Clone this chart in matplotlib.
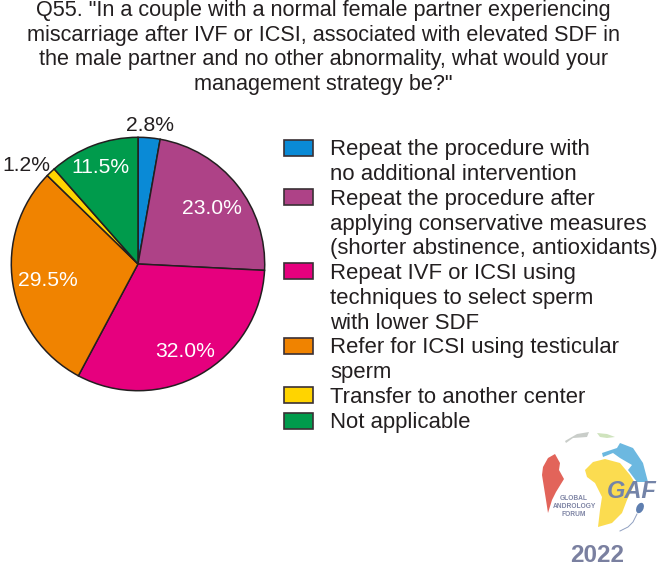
#!/usr/bin/env python3
"""Q55 management strategy pie chart with legend and forum logo"""

import matplotlib
matplotlib.use('Agg')
import matplotlib.pyplot as plt
from matplotlib.patches import Ellipse, Polygon, Rectangle

W, H = 658, 566

title_lines = ['Q55. "In a couple with a normal female partner experiencing',
               'miscarriage after IVF or ICSI, associated with elevated SDF in',
               'the male partner and no other abnormality, what would your',
               'management strategy be?"']
values = [2.8, 23.0, 32.0, 29.5, 1.2, 11.5]
colors = ['#0a8ad6', '#ae4287', '#e6007e', '#f08300', '#ffd400', '#009b4c']
pct_labels = ['2.8%', '23.0%', '32.0%', '29.5%', '1.2%', '11.5%']
legend_labels = [['Repeat the procedure with', 'no additional intervention'],
                 ['Repeat the procedure after', 'applying conservative measures',
                  '(shorter abstinence, antioxidants)'],
                 ['Repeat IVF or ICSI using', 'techniques to select sperm', 'with lower SDF'],
                 ['Refer for ICSI using testicular', 'sperm'],
                 ['Transfer to another center'],
                 ['Not applicable']]

plt.rcParams['font.family'] = ['Liberation Sans', 'DejaVu Sans']
TXT = '#231f20'


def Y(y):
    # picture pixels run downwards
    return H - y


fig = plt.figure(figsize=(W / 100, H / 100), dpi=100, facecolor='white')
ax = fig.add_axes([0, 0, 1, 1])

# title
for line, y in zip(title_lines, [16, 40.7, 65.5, 90]):
    ax.text(323.5, Y(y), line, ha='center', va='baseline', fontsize=15.6, color=TXT)

# pie
ax.pie(values, colors=colors, startangle=90, counterclock=False, center=(138, Y(264)),
       radius=126.7, frame=True, wedgeprops=dict(edgecolor=TXT, linewidth=1.1))
ax.set_xlim(0, W)
ax.set_ylim(0, H)
ax.set_aspect('auto')
ax.axis('off')

label_pos = [(150, 130.7), (212, 214), (185.5, 357), (47.5, 285.7), (26, 170.7), (100, 173)]
label_col = [TXT, 'white', 'white', 'white', TXT, 'white']
for lab, (x, y), c in zip(pct_labels, label_pos, label_col):
    ax.text(x, Y(y), lab, ha='center', va='baseline', fontsize=15.2, color=c)

# legend
box_tops = [140, 189, 263, 338, 387, 412.5]
line_ys = [[155, 180], [205, 230, 254], [279, 304, 329], [353, 378], [403], [428]]
for col, top, lines, ys in zip(colors, box_tops, legend_labels, line_ys):
    ax.add_patch(Rectangle((283.5, Y(top + 16)), 29, 16, facecolor=col, edgecolor='#3a3035', linewidth=1.2))
    for line, y in zip(lines, ys):
        ax.text(330.5, Y(y), line, ha='left', va='baseline', fontsize=15.9, color=TXT)

# logo, drawn roughly
red_land = [(555, 454), (560, 463), (559, 470), (564, 479), (556, 492), (552, 500), (548, 513),
            (546, 500), (542, 475), (543, 467), (548, 458)]
yellow_land = [(585, 470), (593, 462), (605, 459), (620, 463), (630, 475), (635, 483), (627, 500),
               (622, 513), (612, 523), (598, 527), (600, 510), (602, 497), (595, 483), (587, 477)]
blue_land = [(602, 453), (617, 448), (620, 443), (633, 448), (643, 463), (648, 482), (637, 482),
             (628, 470), (632, 465), (620, 458), (613, 453), (603, 457)]
grey_land = [(565, 441), (577, 434), (589, 432), (587, 437), (573, 438), (566, 443)]
green_land = [(597, 433), (607, 434), (615, 437), (607, 438), (600, 437)]
for pts, col in [(red_land, '#e2645a'), (yellow_land, '#fbdc50'), (blue_land, '#6cb8e0'),
                 (grey_land, '#c9cdc9'), (green_land, '#cfe3bd')]:
    ax.add_patch(Polygon([(x, Y(y)) for x, y in pts], closed=True, facecolor=col, edgecolor='none'))

ax.add_patch(Ellipse((640, Y(508)), 7, 11, angle=-25, facecolor='#5f7fb0', edgecolor='none'))
ax.plot([637, 633, 628, 620], [Y(514), Y(522), Y(527), Y(531)], color='#8f9fc0', linewidth=0.7)

ax.text(632, Y(491.5), 'GAF', ha='center', va='center', fontsize=17, fontweight='bold',
        fontstyle='italic', color='#7484a8')
for line, y in zip(['GLOBAL', 'ANDROLOGY', 'FORUM'], [499, 507, 515]):
    ax.text(574, Y(y), line, ha='center', va='center', fontsize=4.8, fontweight='bold', color='#7f85a5')
ax.text(597, Y(555.5), '2022', ha='center', va='center', fontsize=17.5, fontweight='bold', color='#7a80a0')

plt.savefig('out.png', dpi=100, facecolor='white')
